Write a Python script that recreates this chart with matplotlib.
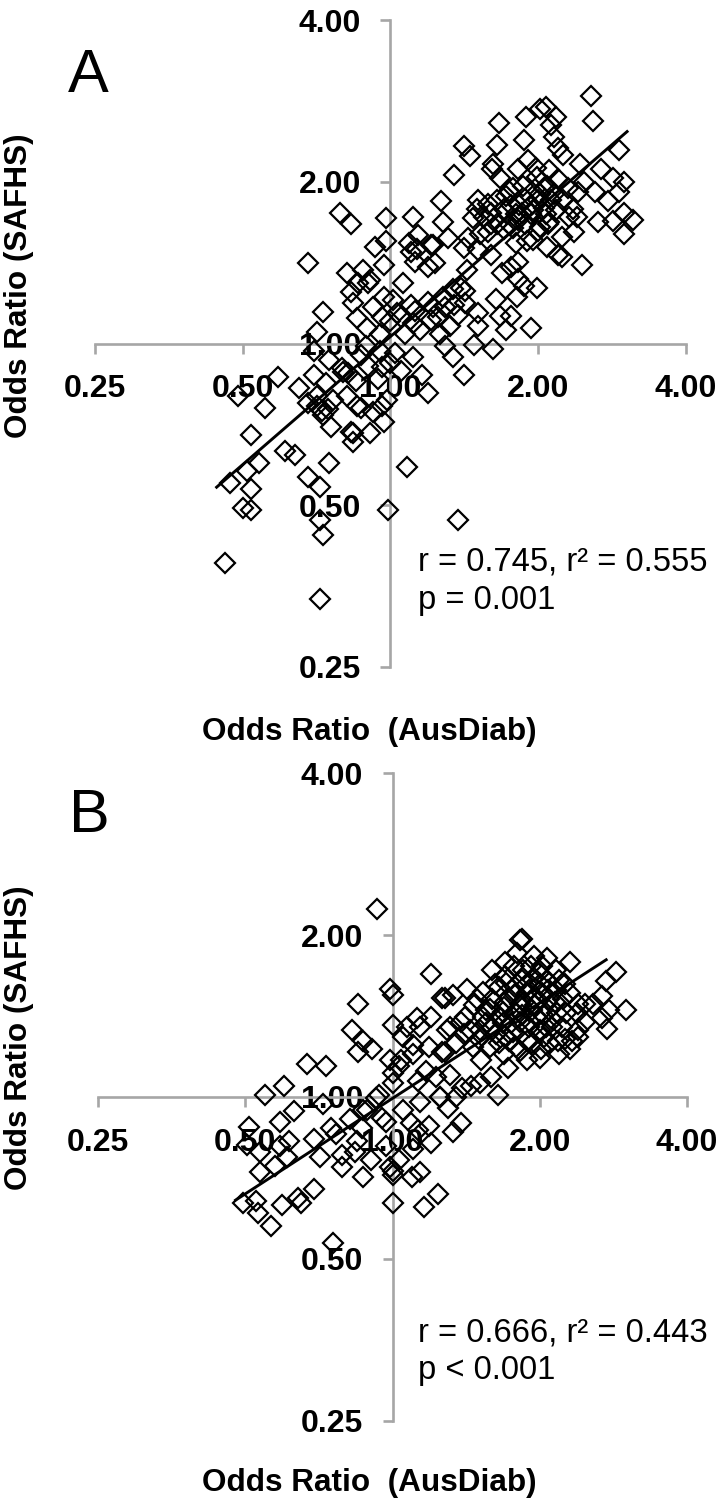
import matplotlib
matplotlib.use("Agg")
import matplotlib.pyplot as plt
from matplotlib.ticker import FixedLocator, FixedFormatter, NullLocator

plt.rcParams['font.family'] = ['Liberation Sans', 'DejaVu Sans']

tick_values = [0.25, 0.5, 1, 2, 4]
tick_labels = ['0.25', '0.50', '1.00', '2.00', '4.00']
x_title = 'Odds Ratio  (AusDiab)'
y_title = 'Odds Ratio (SAFHS)'

a_x = [.46,.72,.73,.72,.99,1.37,1.08,.50,.52,.47,.51,.54,.52,.61,.64,.68,.72,.75,.52,.555,
       .49,.59,.65,.70,.68,.755,.725,.71,.745,.73,.765,.74,.71,.75,.70,.80,.795,.815,.85,.855,
       .87,.84,.84,.83,.91,.97,.92,.96,.985,.90,.96,.945,1.02,1.11,1.16,1.19,1.05,1.34,1.41,1.48,1.62,
       .79,.83,.68,.98,1.11,.98,.93,.97,1.14,1.09,1.21,1.10,1.13,1.12,1.19,.815,.88,.91,.90,.86,.83,1.06,
       .84,.92,.97,1.01,1.10,.73,.855,.895,.96,1.03,1.11,1.19,1.21,.71,
       2.56,2.58,2.92,1.66,1.89,2.07,2.17,2.12,2.02,1.87,1.65,1.41,1.45,1.35,1.62,1.61,1.67,1.91,1.82,2.15,
       2.19,2.25,2.43,2.68,2.84,2.99,2.92,2.48,2.41,2.61,2.77,2.99,3.12,2.84,2.65,2.99,2.46,2.36,2.31,2.24,
       2.19,2.24,2.08,1.95,1.80,2.09,1.86,1.99,2.08,2.19,1.74,1.51,1.27,1.28,1.47,1.60,1.65,1.31,1.41,1.44,
       1.51,1.60,1.43,1.58,1.70,1.82,1.95,2.05,2.02,1.82,1.76,1.69,1.82,1.99,1.87,1.81,1.64,1.67,1.76,1.51,
       1.51,1.42,1.39,1.34,1.29,1.37,1.32,1.25,1.22,1.72,1.93,1.22,1.23,
       1.76,1.88,2.02,2.12,1.93,1.80,1.70,1.60,1.52,2.17,2.07,1.88,1.97,1.78,1.83,
       1.07,1.15,.95,.89,1.26,1.29,.95,
       1.65,1.72,1.78,1.85,1.92,2.0,2.05,2.15,2.25,2.3,2.1,2.0,1.9,1.75,1.55,
       1.50,1.58,2.35,2.4,1.98,2.1,1.05,1.0,1.12,1.28,1.35,1.42,.82,.87,1.0]
a_y = [.39,.335,.44,.47,.49,.47,.59,.495,.49,.55,.58,.60,.535,.63,.62,.565,.54,.60,.675,.76,
       .80,.865,.825,.875,.775,.70,.75,.765,.755,.735,.785,.845,.80,.93,.97,.885,.90,.80,.85,.765,
       .76,.68,.655,.685,.68,.715,.745,.765,.785,.91,.905,.86,.96,.945,.875,.81,.89,.945,.875,.995,.975,
       1.75,1.67,1.41,1.71,1.72,1.55,1.51,1.40,1.59,1.54,1.525,1.48,1.50,1.42,1.385,1.35,1.37,1.31,1.295,1.295,1.245,1.295,
       1.19,1.17,1.22,1.205,1.18,1.145,1.115,1.07,1.12,1.14,1.09,1.195,1.105,1.05,
       2.89,2.60,2.29,2.57,2.64,2.75,2.64,2.55,2.73,2.39,2.34,2.33,2.23,2.06,2.16,2.11,2.03,2.20,2.11,2.42,
       2.31,2.24,2.16,2.11,2.03,2.00,1.91,2.00,1.91,1.91,1.84,1.75,1.70,1.69,1.68,1.60,1.40,1.61,1.72,1.58,
       1.46,1.45,1.51,1.56,1.54,1.67,1.96,2.04,1.96,2.02,1.92,1.85,1.84,1.68,1.71,1.75,1.67,1.57,1.505,1.57,
       1.495,1.46,1.37,1.61,1.63,1.70,1.77,1.79,1.65,1.42,1.385,1.35,1.32,1.27,1.28,1.22,1.21,1.125,1.125,1.14,
       1.08,1.19,1.27,1.265,1.17,1.13,1.08,1.12,1.17,1.06,1.07,1.525,1.41,
       1.81,1.86,1.90,1.85,1.74,1.74,1.78,1.67,1.60,1.77,1.74,1.67,1.94,1.64,1.81,
       1.04,1.06,1.04,.99,1.04,.99,.97,
       1.85,1.88,1.95,1.75,1.80,1.85,1.95,1.90,1.85,1.95,1.68,1.62,1.55,1.66,1.72,
       1.78,1.82,1.78,1.72,2.12,2.10,1.12,1.10,1.15,1.22,1.18,1.25,.88,.95,.92]
a_fit_x = [.44, 3.05]
a_fit_y = [.538, 2.49]

b_x = [.93,1.20,.99,1.0,.85,1.26,.825,.87,.85,.91,1.0,.67,.73,.60,.55,.72,.94,1.14,1.12,1.20,
       1.07,1.14,1.05,1.10,1.19,1.26,.99,1.04,1.10,1.0,1.03,1.17,1.23,1.13,1.0,1.25,1.31,
       1.84,1.82,1.95,2.07,1.70,1.60,2.31,2.86,2.73,3.0,2.75,2.57,2.68,2.77,2.68,2.47,2.40,2.31,2.19,2.16,
       1.99,1.84,1.71,1.53,1.42,1.33,1.28,1.49,1.60,1.73,1.88,2.02,2.16,1.41,1.53,1.65,1.79,1.93,2.09,2.26,
       1.29,1.40,1.51,1.63,1.76,1.90,2.06,2.22,2.40,1.35,1.28,1.46,1.52,1.65,1.79,1.93,2.09,2.33,2.40,2.19,
       2.31,2.01,1.88,1.72,1.69,1.31,1.59,1.51,1.39,1.45,1.64,
       .63,.59,.51,.505,.535,.59,.615,.61,.575,.535,.69,.71,.75,.765,.79,.79,.84,.82,.87,.865,
       .845,.905,.87,.495,.525,.53,.565,.595,.64,.65,.69,.755,1.0,1.16,1.24,1.0,.99,1.0,1.095,1.14,
       1.03,.97,1.10,1.20,1.19,1.13,1.09,1.05,.97,.95,.925,.885,1.33,1.38,1.30,1.25,1.35,
       1.58,1.69,1.82,1.95,2.09,2.23,1.55,1.68,1.82,1.97,2.13,1.44,1.73,1.88,2.04,2.18,1.65,1.77,1.90,2.07,
       1.62,1.70,1.78,1.85,1.93,2.0,2.08,2.15,1.70,1.78,1.86,1.96,2.03,2.12,1.60,1.68,1.75,1.84,1.91,2.0,
       2.17,1.55,1.47,1.38,1.50,1.58,1.70,1.82,2.0,2.25,1.92,2.02,1.80,1.88,2.25,2.38,2.48]
b_y = [2.24,1.69,1.59,1.55,1.49,1.53,1.33,1.27,1.21,1.23,1.36,1.15,1.14,1.05,1.01,.97,1.01,.98,1.40,1.41,
       1.35,1.35,1.29,1.25,1.24,1.21,1.17,1.17,1.20,1.11,1.14,1.12,1.09,1.07,1.06,1.0,1.35,
       1.97,1.96,1.83,1.81,1.78,1.72,1.78,1.71,1.64,1.45,1.34,1.49,1.54,1.45,1.40,1.49,1.49,1.56,1.65,1.72,
       1.70,1.65,1.63,1.57,1.59,1.55,1.53,1.52,1.52,1.53,1.56,1.56,1.58,1.41,1.41,1.41,1.43,1.45,1.45,1.43,
       1.33,1.31,1.33,1.31,1.32,1.35,1.35,1.35,1.33,1.26,1.21,1.24,1.17,1.26,1.24,1.26,1.26,1.27,1.29,1.20,
       1.23,1.23,1.17,1.13,1.20,1.10,1.09,1.06,1.04,1.05,1.01,
       .94,.90,.88,.815,.79,.81,.83,.775,.745,.725,.835,.775,.875,.855,.78,.74,.79,.91,.945,.875,
       .83,.765,.71,.635,.64,.61,.575,.63,.65,.635,.675,.535,.635,.625,.66,.73,.74,.715,.71,.725,
       .765,.81,.80,.82,.885,.87,.895,.945,.90,.915,.995,.945,.86,.895,.955,1.0,1.0,
       1.46,1.47,1.49,1.52,1.52,1.52,1.37,1.37,1.38,1.41,1.39,1.33,1.27,1.27,1.29,1.27,1.60,1.75,1.58,1.65,
       1.62,1.68,1.60,1.72,1.66,1.62,1.58,1.50,1.50,1.55,1.50,1.48,1.42,1.35,1.35,1.44,1.37,1.42,1.38,1.33,
       1.43,1.45,1.48,1.38,1.28,1.24,1.30,1.22,1.18,1.28,1.75,1.75,1.85,1.62,1.62,1.43,1.38]
b_fit_x = [.475, 2.75]
b_fit_y = [.641, 1.805]

W, H = 726, 1510
fig = plt.figure(figsize=(W / 100, H / 100), dpi=100, facecolor='white')
GRAY = '#A6A6A6'


def panel(box, xs, ys, fx, fy):
    l, r, t, b = box
    ax = fig.add_axes([l / W, 1 - b / H, (r - l) / W, (b - t) / H])
    ax.set_xscale('log', base=2)
    ax.set_yscale('log', base=2)
    ax.set_xlim(0.25, 4)
    ax.set_ylim(0.25, 4)
    ax.patch.set_alpha(0)
    for s in ('top', 'right'):
        ax.spines[s].set_visible(False)
    for s in ('left', 'bottom'):
        ax.spines[s].set_position(('data', 1))
        ax.spines[s].set_color(GRAY)
        ax.spines[s].set_linewidth(1.9)
    for axis in (ax.xaxis, ax.yaxis):
        axis.set_major_locator(FixedLocator(tick_values))
        axis.set_major_formatter(FixedFormatter(tick_labels))
        axis.set_minor_locator(NullLocator())
    ax.tick_params(axis='x', direction='out', length=7, width=1.9, color=GRAY, pad=15, labelsize=23)
    ax.tick_params(axis='y', direction='out', length=7, width=1.9, color=GRAY, pad=14, labelsize=23)
    for lab in ax.get_xticklabels() + ax.get_yticklabels():
        lab.set_fontweight('bold')
        lab.set_color('black')
    ax.plot(xs, ys, linestyle='none', marker='D', markersize=10.2, markerfacecolor='none',
            markeredgecolor='black', markeredgewidth=1.6, clip_on=False, zorder=3)
    ax.plot(fx, fy, color='black', lw=2.1, solid_capstyle='butt', zorder=4, clip_on=False)
    return ax


def txt(px, py, s, **kw):
    fig.text(px / W, 1 - py / H, s, **kw)


panel((95, 686, 20, 667), a_x, a_y, a_fit_x, a_fit_y)
panel((98, 687, 773, 1421), b_x, b_y, b_fit_x, b_fit_y)

for cx, cy in ((369, 732), (369, 1483)):
    txt(cx, cy, x_title, fontsize=22.7, fontweight='bold', ha='center', va='center')
for cx, cy in ((19, 286), (19, 1038)):
    txt(cx, cy, y_title, fontsize=22.7, fontweight='bold', ha='center', va='center', rotation=90)

txt(68, 92, 'A', fontsize=44, ha='left', va='baseline')
txt(69, 832, 'B', fontsize=44, ha='left', va='baseline')

txt(418, 571, 'r = 0.745, r² = 0.555', fontsize=23.6, ha='left', va='baseline')
txt(418, 609, 'p = 0.001', fontsize=23.6, ha='left', va='baseline')
txt(418, 1341, 'r = 0.666, r² = 0.443', fontsize=23.6, ha='left', va='baseline')
txt(418, 1379, 'p < 0.001', fontsize=23.6, ha='left', va='baseline')

assert len(a_x) == len(a_y) and len(b_x) == len(b_y)
fig.savefig('out.png', dpi=100)
